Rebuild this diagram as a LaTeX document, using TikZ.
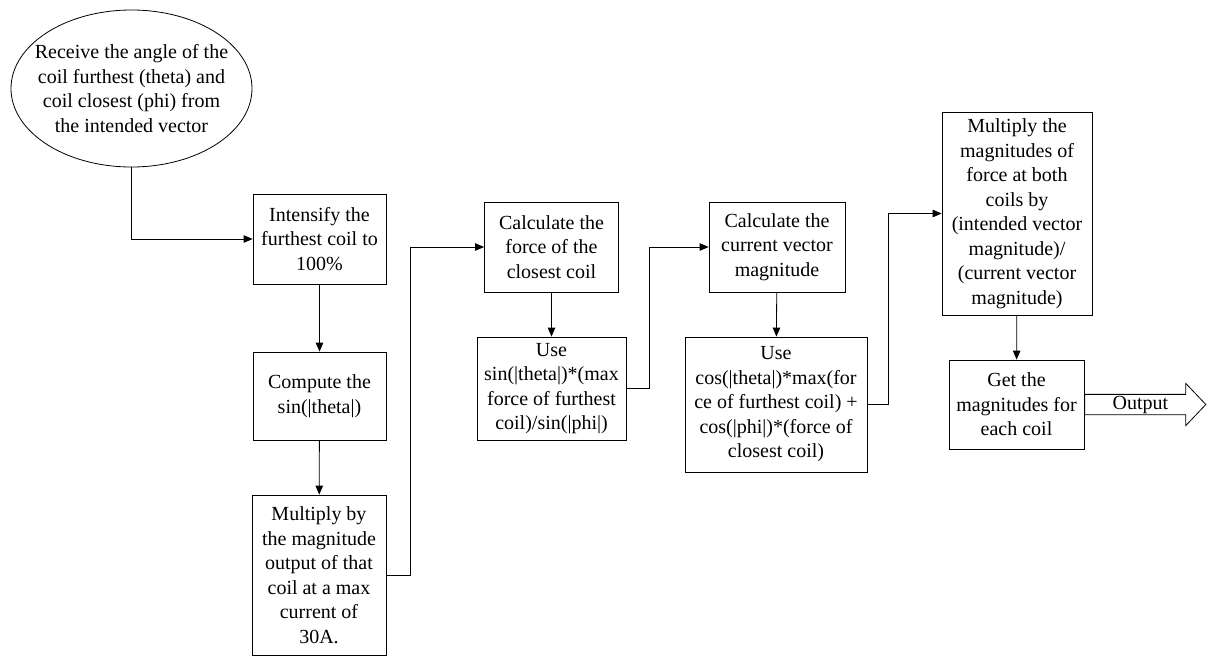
\documentclass[tikz,border=0pt]{standalone}
\usepackage{fontspec}
\setmainfont{Liberation Serif}
\usetikzlibrary{arrows.meta,shapes.geometric,shapes.arrows}

\tikzset{
    stepbox/.style={draw,line width=0.8pt,rectangle,align=center,inner sep=0pt,
        font=\fontsize{20}{24.5}\selectfont},
    flow/.style={line width=0.8pt,-{Triangle[length=9pt,width=7.5pt]}},
}

\begin{document}
\begin{tikzpicture}[x=1pt,y=-1pt]
                \useasboundingbox (0,0) rectangle (1212,665);
                \node[stepbox,ellipse,inner xsep=-15pt,inner ysep=0pt,minimum width=241pt,minimum height=157pt] (receive) at (131.5,88.5)
                    {Receive the angle of the\\coil furthest (theta) and\\coil closest (phi) from\\the intended vector};
                \node[stepbox,minimum width=133pt,minimum height=90pt] (intensify) at (319.5,239)
                    {Intensify the\\furthest coil to\\100\%};
                \node[stepbox,minimum width=133pt,minimum height=88pt] (sine) at (319.5,396)
                    {Compute the\\sin(|theta|)};
                \node[stepbox,minimum width=134pt,minimum height=160pt] (maxforce) at (319,575)
                    {Multiply by\\the magnitude\\output of that\\coil at a max\\current of\\30A.};
                \node[stepbox,minimum width=134pt,minimum height=90pt] (closest) at (551.5,247)
                    {Calculate the\\force of the\\closest coil};
                \node[stepbox,minimum width=149pt,minimum height=103pt] (useSin) at (551.5,388.5)
                    {Use\\sin(|theta|)*(max\\force of furthest\\coil)/sin(|phi|)};
                \node[stepbox,minimum width=136pt,minimum height=90pt] (current) at (777,247)
                    {Calculate the\\current vector\\magnitude};
                \node[stepbox,minimum width=182pt,minimum height=135pt] (useCos) at (776,404.5)
                    {Use\\cos(|theta|)*max(for\\ce of furthest coil) +\\cos(|phi|)*(force of\\closest coil)};
                \node[stepbox,minimum width=150pt,minimum height=203pt] (scale) at (1017,213.5)
                    {Multiply the\\magnitudes of\\force at both\\coils by\\(intended vector\\magnitude)/\\(current vector\\magnitude)};
                \node[stepbox,minimum width=135pt,minimum height=89pt] (result) at (1016.5,404.5)
                    {Get the\\magnitudes for\\each coil};
                \node[draw,line width=0.8pt,single arrow,anchor=tail,inner xsep=0pt,inner ysep=1pt,
                    minimum height=121pt,single arrow head extend=11pt,single arrow tip angle=93,
                    font=\fontsize{20}{24.5}\selectfont] (output) at (result.east) {Output};
                \draw[flow] (receive.south) |- (intensify.west);
                \draw[flow] (intensify) -- (sine);
                \draw[flow] (sine) -- (maxforce);
                \draw[flow] (maxforce.east) -- ++(24,0) |- (closest.west);
                \draw[flow] (closest) -- (useSin);
                \draw[flow] (useSin.east) -- ++(23,0) |- (current.west);
                \draw[flow] (current) -- (useCos);
                \draw[flow] (useCos.east) -- ++(21,0) |- (scale.west);
                \draw[flow] (scale) -- (result);
\end{tikzpicture}
\end{document}
